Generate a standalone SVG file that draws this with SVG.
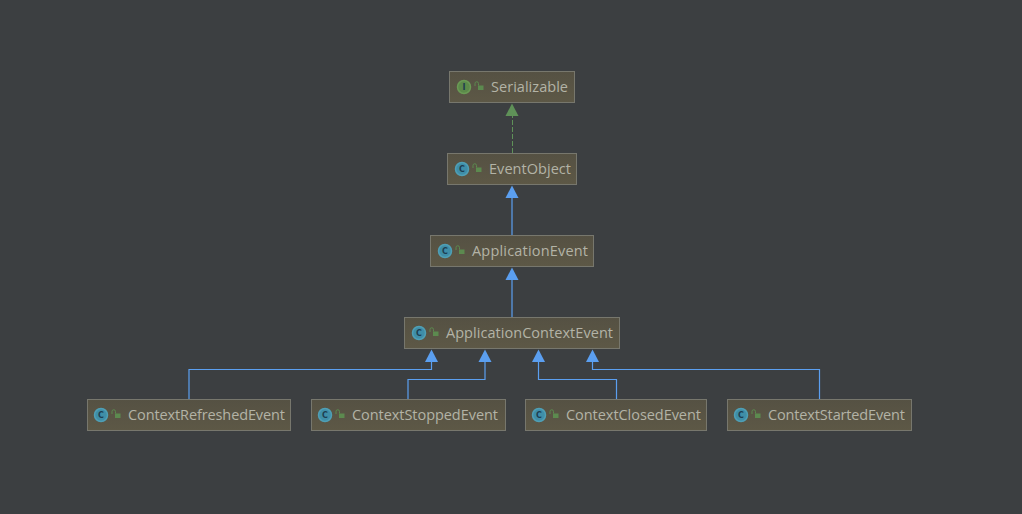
<svg xmlns="http://www.w3.org/2000/svg" width="1022" height="514" viewBox="0 0 1022 514">
<defs>
<linearGradient id="bg" x1="0" y1="0" x2="0" y2="1"><stop offset="0" stop-color="#555143"/><stop offset="1" stop-color="#5d5846"/></linearGradient>
<g id="lock"><rect x="0" y="2.500" width="5.500" height="4.500" fill="#5c8a4f"/><path d="M-3 3V0.500A1.700 1.700 0 0 1 0.500 0.500V2.500" fill="none" stroke="#5c8a4f" stroke-width="1"/></g>
</defs>
<style>
.box{fill:url(#bg);stroke:#77776d;stroke-width:1}
.lbl{font-family:"Open Sans","DejaVu Sans",sans-serif;font-size:14.500px;fill:#b3b3a6}
.ic{fill:#3f8ea8;stroke:#4f9fb5;stroke-width:1.500}
.ii{fill:#5c8a4a;stroke:#6a9a55;stroke-width:1.500}
.il{font-family:"DejaVu Sans",sans-serif;font-size:8px;font-weight:bold;text-anchor:middle;fill:#1d3d50}
.e{fill:none;stroke:#5b9ff0;stroke-width:1.200}
.d{fill:none;stroke:#5f9158;stroke-width:1;stroke-dasharray:5 2}
.ah{fill:#5b9ff0}
.ag{fill:#5f9158}
</style>
<rect width="1022" height="514" fill="#3c3f41"/>
<g id="connectors">
<path class="d" d="M512.500 153V114"/><path class="ag" d="M512 103.500L518.500 116H505.500Z"/>
<path class="e" d="M512 235V196"/><path class="ah" d="M512 185.500L518.500 198H505.500Z"/>
<path class="e" d="M512 317V278"/><path class="ah" d="M512 267.500L518.500 280H505.500Z"/>
<path class="e" d="M189 399V369.500H431.500V360"/><path class="ah" d="M431.500 349.500L438 362H425Z"/>
<path class="e" d="M408 399V379.500H485V360"/><path class="ah" d="M485 349.500L491.500 362H478.500Z"/>
<path class="e" d="M616.500 399V379.500H538.500V360"/><path class="ah" d="M538.500 349.500L545 362H532Z"/>
<path class="e" d="M819.500 399V369.500H592.500V360"/><path class="ah" d="M592.500 349.500L599 362H586Z"/>
</g>
<g id="Serializable"><rect class="box" x="449.500" y="71.500" width="125" height="31"/><circle class="ii" cx="464" cy="87" r="6.500"/><text class="il" x="464" y="90">I</text><use href="#lock" x="478" y="83"/><text class="lbl" x="491" y="92" textLength="77">Serializable</text></g>
<g id="EventObject"><rect class="box" x="447.500" y="153.500" width="129" height="31"/><circle class="ic" cx="462" cy="169" r="6.500"/><text class="il" x="462" y="172">C</text><use href="#lock" x="476" y="165"/><text class="lbl" x="489" y="174" textLength="82">EventObject</text></g>
<g id="ApplicationEvent"><rect class="box" x="430.500" y="235.500" width="163" height="31"/><circle class="ic" cx="445" cy="251" r="6.500"/><text class="il" x="445" y="254">C</text><use href="#lock" x="459" y="247"/><text class="lbl" x="472" y="256" textLength="116">ApplicationEvent</text></g>
<g id="ApplicationContextEvent"><rect class="box" x="404.500" y="317.500" width="215" height="31"/><circle class="ic" cx="419" cy="333" r="6.500"/><text class="il" x="419" y="336">C</text><use href="#lock" x="433" y="329"/><text class="lbl" x="446" y="338" textLength="167">ApplicationContextEvent</text></g>
<g id="ContextRefreshedEvent"><rect class="box" x="87.500" y="399.500" width="203" height="31"/><circle class="ic" cx="101" cy="415" r="6.500"/><text class="il" x="101" y="418">C</text><use href="#lock" x="115" y="411"/><text class="lbl" x="128" y="420" textLength="157">ContextRefreshedEvent</text></g>
<g id="ContextStoppedEvent"><rect class="box" x="311.500" y="399.500" width="194" height="31"/><circle class="ic" cx="325" cy="415" r="6.500"/><text class="il" x="325" y="418">C</text><use href="#lock" x="339" y="411"/><text class="lbl" x="352" y="420" textLength="146">ContextStoppedEvent</text></g>
<g id="ContextClosedEvent"><rect class="box" x="525.500" y="399.500" width="181" height="31"/><circle class="ic" cx="539" cy="415" r="6.500"/><text class="il" x="539" y="418">C</text><use href="#lock" x="553" y="411"/><text class="lbl" x="566" y="420" textLength="135">ContextClosedEvent</text></g>
<g id="ContextStartedEvent"><rect class="box" x="727.500" y="399.500" width="184" height="31"/><circle class="ic" cx="741" cy="415" r="6.500"/><text class="il" x="741" y="418">C</text><use href="#lock" x="755" y="411"/><text class="lbl" x="768" y="420" textLength="137">ContextStartedEvent</text></g>
</svg>
